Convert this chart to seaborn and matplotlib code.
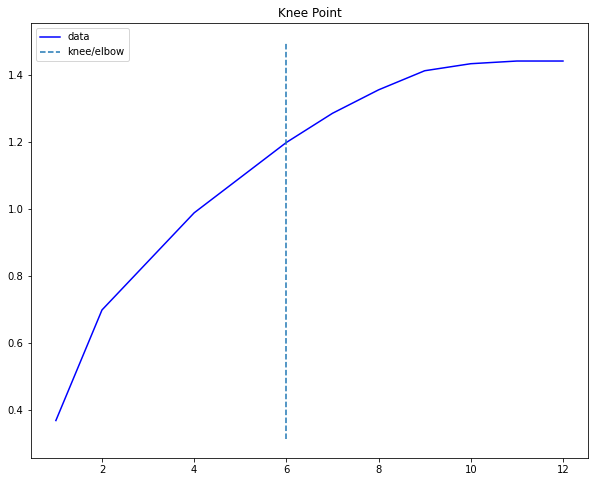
import matplotlib
matplotlib.use("Agg")
import matplotlib.pyplot as plt
import seaborn as sns
import pandas as pd

x_vals = [1, 2, 3, 4, 5, 6, 7, 8, 9, 10, 11, 12]
y_vals = [0.37, 0.70, 0.845, 0.99, 1.095, 1.20, 1.287, 1.357, 1.414, 1.435, 1.443, 1.443]
knee_x = 6
title = "Knee Point"

df = pd.DataFrame({"x": x_vals, "y": y_vals})

DPI = 72
fig, ax = plt.subplots(figsize=(595 / DPI, 482 / DPI), dpi=DPI)
fig.subplots_adjust(left=0.0513, right=0.9888, top=0.9517, bottom=0.0492)

sns.lineplot(data=df, x="x", y="y", color="b", ax=ax, label="data")
ymin, ymax = ax.get_ylim()
ax.vlines(knee_x, ymin, ymax, linestyles="--", label="knee/elbow")
ax.autoscale_view()
ax.set_xlabel("")
ax.set_ylabel("")
ax.set_title(title)
ax.set_xticks([2, 4, 6, 8, 10, 12])
ax.legend(loc="upper left")

fig.savefig("out.png", dpi=DPI)
